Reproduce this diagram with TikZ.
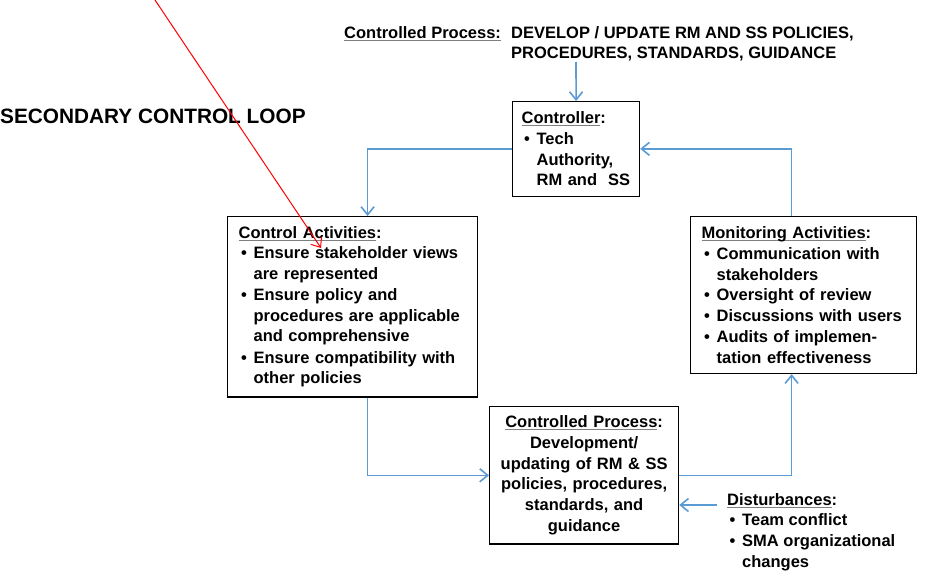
\documentclass[tikz,border=0pt]{standalone}
\usepackage{fontspec}
\setmainfont{Liberation Sans}
\usetikzlibrary{arrows.meta}
\definecolor{loopblue}{HTML}{5B9BD5}
\definecolor{loopred}{HTML}{FF0000}
\definecolor{ulgray}{HTML}{7F7F7F}
\newcommand{\ulhead}[1]{\setbox0\hbox{#1}\rlap{\color{ulgray}\rule[-2.5pt]{\wd0}{1pt}}\box0}
\newcommand{\bul}{\makebox[15pt][l]{\hspace{2.5pt}\textbullet}}
\newcommand{\cont}{\hspace*{15pt}}

\begin{document}
\begin{tikzpicture}[x=1pt, y=-1pt,
  every node/.style={font=\fontsize{16.5}{20.8}\bfseries\selectfont},
  box/.style={draw, line width=1.2pt, anchor=north west, inner xsep=11pt, inner ysep=10pt, align=left},
  plain/.style={anchor=north west, inner sep=0pt, align=left},
  flow/.style={draw=loopblue, line width=1.6pt, -{Straight Barb[length=8pt,width=13pt]}},
]
\useasboundingbox (0,0) rectangle (926,578);
\node[plain] (toplbl) at (344,26) {\ulhead{Controlled Process:}};
\node[plain] (topproc) at (511,26) {DEVELOP / UPDATE RM AND SS POLICIES,\\PROCEDURES, STANDARDS, GUIDANCE};
\node[anchor=west, inner sep=0pt, font=\fontsize{20.8}{24}\bfseries\selectfont] (looptitle) at (0,116) {SECONDARY CONTROL LOOP};
\node[box, inner xsep=9pt, text width=109pt] (ctrl) at (512,101) {\ulhead{Controller}:\\\bul Tech\\\cont Authority,\\\cont\mbox{RM and\ \ SS}};
\node[box, text width=228pt, font=\fontsize{16.5}{20.3}\bfseries\selectfont] (ctrlact) at (227,216) {\ulhead{Control Activities}:\\\bul Ensure stakeholder views\\\cont are represented\\[1.5pt]\bul Ensure policy and\\\cont procedures are applicable\\\cont and comprehensive\\[1.5pt]\bul Ensure compatibility with\\\cont other policies};
\node[box, text width=204pt] (mon) at (690,216) {\ulhead{Monitoring Activities}:\\\bul Communication with\\\cont stakeholders\\\bul Oversight of review\\\bul Discussions with users\\\bul Audits of implemen-\\\cont tation effectiveness};
\node[box, inner xsep=8pt, inner ysep=9pt, text width=173pt, align=center] (proc) at (489,406) {\ulhead{Controlled Process}:\\Development/\\updating of RM \& SS\\policies, procedures,\\standards, and\\guidance};
\node[plain] (dist) at (727,493) {\ulhead{Disturbances}:\\\bul Team conflict\\\bul SMA organizational\\\cont changes};
\coordinate (topin) at (576,62);
\coordinate (distin) at (717,505);
\coordinate (redtail) at (155,0);
\coordinate (redtip) at (321,248);
\draw[flow] (topin) -- (ctrl.north);
\draw[flow] (ctrl.west) -| ([xshift=15pt]ctrlact.north);
\draw[flow] ([xshift=15pt]ctrlact.south) |- (proc.west);
\draw[flow] (proc.east) -| ([xshift=-12pt]mon.south);
\draw[flow] ([xshift=-12pt]mon.north) |- (ctrl.east);
\draw[flow] (distin) -- (distin -| proc.east);
\draw[loopred, line width=1pt, -{Straight Barb[length=8pt,width=13pt]}] (redtail) -- (redtip);
\end{tikzpicture}
\end{document}
